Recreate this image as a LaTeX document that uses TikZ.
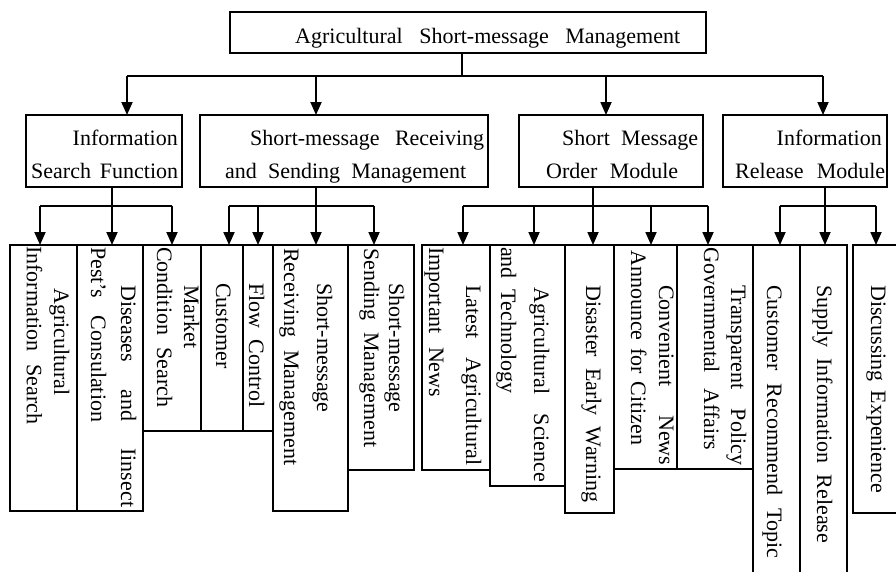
\documentclass[tikz,border=0pt]{standalone}
\usepackage{fontspec}
\setmainfont{Liberation Serif}
\usetikzlibrary{arrows.meta}
\begin{document}
\begin{tikzpicture}[x=1pt,y=-1pt,
  box/.style={draw,line width=1.4pt,anchor=north west,inner sep=0pt,outer sep=0pt},
  conn/.style={line width=1.8pt},
  arr/.style={line width=1.8pt,-{Triangle[length=13pt,width=11pt]}},
  txt/.style={anchor=base west,inner sep=0pt,font=\fontsize{22}{22}\selectfont},
  txte/.style={txt,anchor=base east},
  vt/.style={txt,rotate=-90}]
\clip (0,0) rectangle (896,571);
\fill[white] (0,0) rectangle (896,571);
% top
\node[box,minimum width=476pt,minimum height=41pt] (top) at (230,12) {};
% second row
\node[box,minimum width=156pt,minimum height=72pt] (s1) at (26,115) {};
\node[box,minimum width=288pt,minimum height=72pt] (s2) at (200,115) {};
\node[box,minimum width=184pt,minimum height=72pt] (s3) at (519,115) {};
\node[box,minimum width=164pt,minimum height=72pt] (s4) at (723,115) {};
% leaves
\node[box,minimum width=67pt,minimum height=266pt] (l1) at (10,245) {};
\node[box,minimum width=66pt,minimum height=266pt] (l2) at (77,245) {};
\node[box,minimum width=58pt,minimum height=186pt] (l3) at (143,245) {};
\node[box,minimum width=42pt,minimum height=186pt] (l4) at (201,245) {};
\node[box,minimum width=30pt,minimum height=186pt] (l5) at (243,245) {};
\node[box,minimum width=75pt,minimum height=266pt] (l6) at (273,245) {};
\node[box,minimum width=66pt,minimum height=225pt] (l7) at (348,245) {};
\node[box,minimum width=68pt,minimum height=225pt] (l8) at (422,245) {};
\node[box,minimum width=75pt,minimum height=241pt] (l9) at (490,245) {};
\node[box,minimum width=49pt,minimum height=268pt] (l10) at (565,245) {};
\node[box,minimum width=63pt,minimum height=224pt] (l11) at (614,245) {};
\node[box,minimum width=76pt,minimum height=224pt] (l12) at (677,245) {};
\node[box,minimum width=47pt,minimum height=345pt] (l13) at (753,245) {};
\node[box,minimum width=47pt,minimum height=345pt] (l14) at (800,245) {};
\node[box,minimum width=57pt,minimum height=268pt] (l15) at (853,245) {};
% connectors level 1
\coordinate (j0) at (462,76);
\coordinate (a1) at (127,76);
\coordinate (a2) at (316,76);
\coordinate (a3) at (606,76);
\coordinate (a4) at (823,76);
\draw[conn] (top.south -| j0) -- (j0);
\draw[conn] (a1) -- (a4);
\draw[arr] (a1) -- (a1 |- s1.north);
\draw[arr] (a2) -- (a2 |- s2.north);
\draw[arr] (a3) -- (a3 |- s3.north);
\draw[arr] (a4) -- (a4 |- s4.north);
% group 1
\coordinate (j1) at (112,206);
\coordinate (b1) at (40,206);
\coordinate (b2) at (112,206);
\coordinate (b3) at (172,206);
\draw[conn] (s1.south -| j1) -- (j1);
\draw[conn] (b1) -- (b3);
\draw[arr] (b1) -- (b1 |- l1.north);
\draw[arr] (b2) -- (b2 |- l2.north);
\draw[arr] (b3) -- (b3 |- l3.north);
% group 2
\coordinate (j2) at (316,206);
\coordinate (c1) at (229,206);
\coordinate (c2) at (258,206);
\coordinate (c3) at (316,206);
\coordinate (c4) at (374,206);
\draw[conn] (s2.south -| j2) -- (j2);
\draw[conn] (c1) -- (c4);
\draw[arr] (c1) -- (c1 |- l4.north);
\draw[arr] (c2) -- (c2 |- l5.north);
\draw[arr] (c3) -- (c3 |- l6.north);
\draw[arr] (c4) -- (c4 |- l7.north);
% group 3
\coordinate (j3) at (593,206);
\coordinate (d1) at (463,206);
\coordinate (d2) at (534,206);
\coordinate (d3) at (593,206);
\coordinate (d4) at (651,206);
\coordinate (d5) at (708,206);
\draw[conn] (s3.south -| j3) -- (j3);
\draw[conn] (d1) -- (d5);
\draw[arr] (d1) -- (d1 |- l8.north);
\draw[arr] (d2) -- (d2 |- l9.north);
\draw[arr] (d3) -- (d3 |- l10.north);
\draw[arr] (d4) -- (d4 |- l11.north);
\draw[arr] (d5) -- (d5 |- l12.north);
% group 4
\coordinate (j4) at (825,206);
\coordinate (e1) at (780,206);
\coordinate (e2) at (825,206);
\coordinate (e3) at (876,206);
\draw[conn] (s4.south -| j4) -- (j4);
\draw[conn] (e1) -- (e3);
\draw[arr] (e1) -- (e1 |- l13.north);
\draw[arr] (e2) -- (e2 |- l14.north);
\draw[arr] (e3) -- (e3 |- l15.north);
% texts
\node[txt] (tt) at (295,43) {\makebox[385pt][s]{Agricultural Short-message Management}};
\node[txte] (t1a) at (178,145) {Information};
\node[txt] (t1b) at (31,178) {\makebox[147pt][s]{Search Function}};
\node[txt] (t2a) at (250,145) {\makebox[234pt][s]{Short-message Receiving}};
\node[txt] (t2b) at (225,178) {\makebox[241pt][s]{and Sending Management}};
\node[txt] (t3a) at (562,145) {\makebox[136pt][s]{Short Message}};
\node[txt] (t3b) at (546,178) {\makebox[132pt][s]{Order Module}};
\node[txte] (t4a) at (882,145) {Information};
\node[txt] (t4b) at (735,178) {\makebox[150pt][s]{Release Module}};
% leaf texts
\node[vt] (v1a) at (54,288) {Agricultural};
\node[vt] (v1b) at (27,246) {\makebox[178pt][s]{Information Search}};
\node[vt] (v2a) at (121,285) {\makebox[222pt][s]{Diseases and Iinsect}};
\node[vt] (v2b) at (91,247) {\makebox[175pt][s]{Pest's Consulation}};
\node[vt] (v3a) at (184,285) {Market};
\node[vt] (v3b) at (157,247) {\makebox[160pt][s]{Condition Search}};
\node[vt] (v4a) at (216,283) {Customer};
\node[vt] (v5a) at (249,283) {\makebox[124pt][s]{Flow Control}};
\node[vt] (v6a) at (317,283) {Short-message};
\node[vt] (v6b) at (284,248) {\makebox[217pt][s]{Receiving Management}};
\node[vt] (v7a) at (389,283) {Short-message};
\node[vt] (v7b) at (364,248) {\makebox[199pt][s]{Sending Management}};
\node[vt] (v8a) at (466,285) {\makebox[180pt][s]{Latest Agricultural}};
\node[vt] (v8b) at (429,247) {\makebox[150pt][s]{Important News}};
\node[vt] (v9a) at (534,287) {\makebox[195pt][s]{Agricultural Science}};
\node[vt] (v9b) at (501,247) {\makebox[146pt][s]{and Technology}};
\node[vt] (v10a) at (586,285) {\makebox[217pt][s]{Disaster Early Warning}};
\node[vt] (v11a) at (659,285) {\makebox[180pt][s]{Convenient News}};
\node[vt] (v11b) at (631,250) {\makebox[195pt][s]{Announce for Citizen}};
\node[vt] (v12a) at (731,285) {\makebox[180pt][s]{Transparent Policy}};
\node[vt] (v12b) at (704,247) {\makebox[203pt][s]{Governmental Affairs}};
\node[vt] (v13a) at (767,285) {\makebox[273pt][s]{Customer Recommend Topic}};
\node[vt] (v14a) at (817,285) {\makebox[258pt][s]{Supply Information Release}};
\node[vt] (v15a) at (871,285) {\makebox[208pt][s]{Discussing Expenience}};
\end{tikzpicture}
\end{document}
